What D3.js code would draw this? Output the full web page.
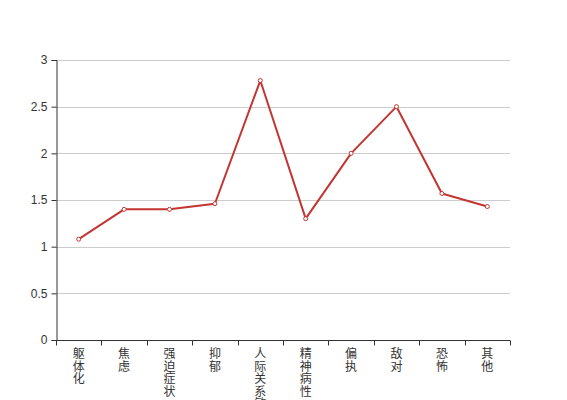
<!DOCTYPE html>
<html><head><meta charset="utf-8">
<script src="https://cdn.jsdelivr.net/npm/d3@7/dist/d3.min.js"></script>
<style>body{margin:0;background:#fff}svg{display:block}</style>
</head><body>
<script>
const categories = ["躯体化","焦虑","强迫症状","抑郁","人际关系敏感","精神病性","偏执","敌对","恐怖","其他"];
const values = [1.08,1.40,1.40,1.46,2.78,1.30,2.00,2.50,1.57,1.43];
const yTicks = [0,0.5,1,1.5,2,2.5,3];

const W=567,H=400;
const m={left:56,right:57,top:60,bottom:60};
const svg=d3.select("body").append("svg").attr("width",W).attr("height",H);
const font="'Liberation Sans','Noto Sans CJK SC',sans-serif";
const x=d3.scaleBand().domain(categories).range([m.left,W-m.right]);
const y=d3.scaleLinear().domain([0,3]).range([H-m.bottom,m.top]);

// grid
svg.append("g").selectAll("line").data(yTicks.filter(d=>d>0)).join("line")
  .attr("x1",m.left).attr("x2",W-m.right)
  .attr("y1",d=>Math.round(y(d))+0.5).attr("y2",d=>Math.round(y(d))+0.5)
  .attr("stroke","#ccc").attr("stroke-width",1);

// y axis
const ya=svg.append("g").attr("transform",`translate(${m.left+0.5},0)`)
  .call(d3.axisLeft(y).tickValues(yTicks).tickSize(5).tickPadding(4).tickFormat(d=>d3.format("")(d)));
ya.select(".domain").attr("stroke","#333");
ya.selectAll(".tick line").attr("stroke","#333");
ya.selectAll("text").attr("fill","#333").style("font-size","12px").style("font-family",font);

// x axis
const xa=svg.append("g").attr("transform",`translate(0,${Math.round(y(0))+0.5})`);
xa.append("line").attr("x1",m.left).attr("x2",W-m.right).attr("stroke","#333");
const bounds=categories.map(c=>x(c)).concat([x(categories[categories.length-1])+x.bandwidth()]);
xa.selectAll("line.t").data(bounds).join("line").attr("class","t")
  .attr("x1",d=>Math.round(d)+0.5).attr("x2",d=>Math.round(d)+0.5).attr("y1",0).attr("y2",5).attr("stroke","#333");
const lbl=xa.selectAll("text").data(categories).join("text")
  .attr("x",d=>x(d)+x.bandwidth()/2).attr("y",17.5)
  .attr("text-anchor","middle").attr("fill","#333")
  .style("font-size","12px").style("font-family",font);
lbl.each(function(d){
  const t=d3.select(this);
  Array.from(d).forEach((ch,i)=>{
    t.append("tspan").attr("x",x(d)+x.bandwidth()/2).attr("dy",i===0?0:12.5).text(ch);
  });
});

// line
const cx=d=>x(d)+x.bandwidth()/2;
const line=d3.line().x((d,i)=>cx(categories[i])).y(d=>y(d));
svg.append("path").datum(values).attr("d",line).attr("fill","none")
  .attr("stroke","#c23531").attr("stroke-width",2).attr("stroke-linejoin","bevel");
svg.append("g").selectAll("circle").data(values).join("circle")
  .attr("cx",(d,i)=>cx(categories[i])).attr("cy",d=>y(d)).attr("r",2)
  .attr("fill","#fff").attr("stroke","#c23531").attr("stroke-width",1);
</script>
</body></html>
